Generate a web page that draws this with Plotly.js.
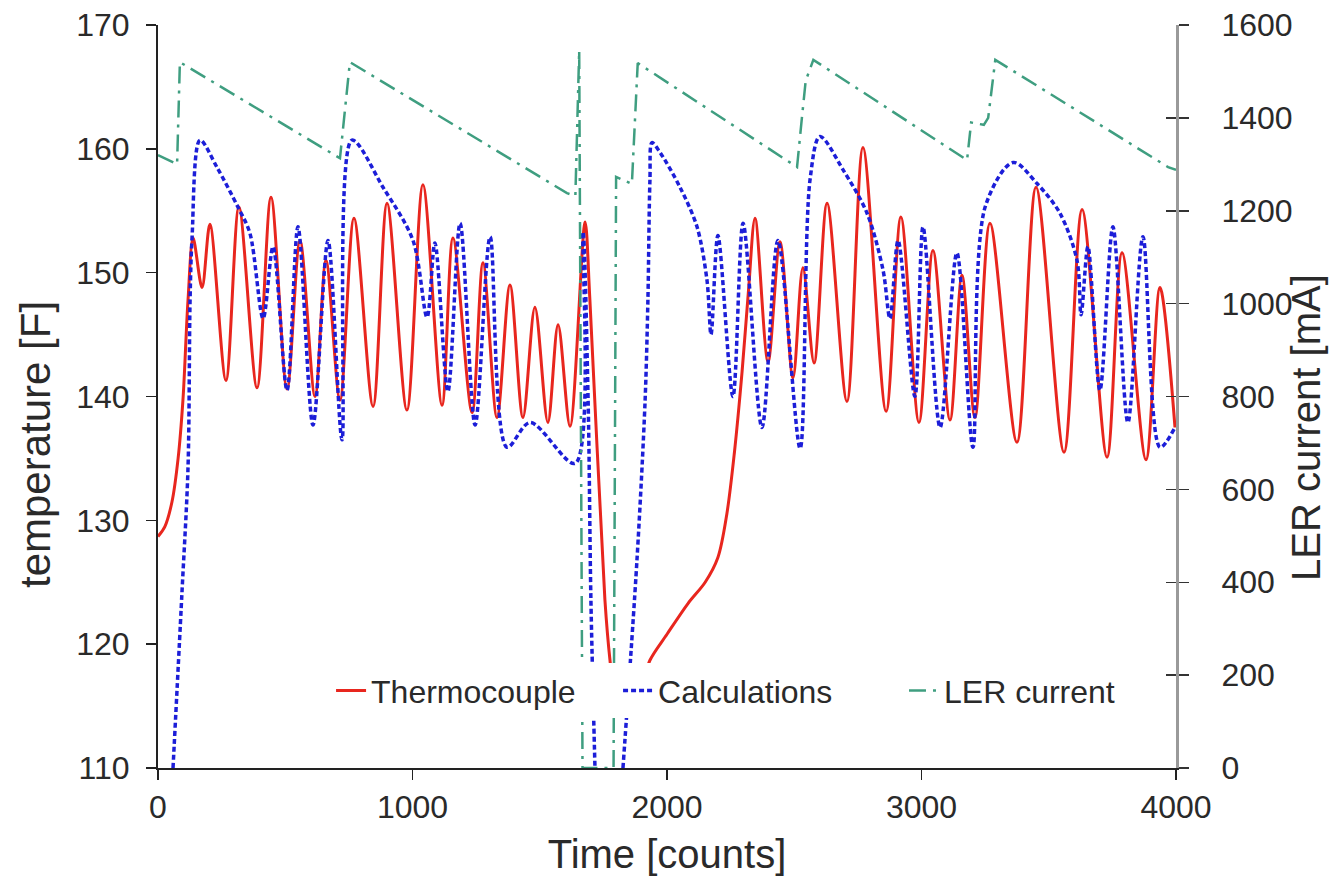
<!DOCTYPE html>
<html>
<head>
<meta charset="utf-8">
<script src="https://cdn.plot.ly/plotly-3.0.1.min.js"></script>
<style>html,body{margin:0;padding:0;background:#fff;}#chart{width:1330px;height:886px;}</style>
</head>
<body>
<div id="chart"></div>
<script>
// Thermocouple (red) - time [counts] vs temperature [F]
const thermoCounts = [0,27,55,79,98,118,138,173,204,267,318,389,444,507,558,617,660,715,770,845,900,978,1041,1116,1159,1234,1277,1332,1383,1434,1481,1532,1572,1619,1678,1697,1756,1776,1790,1820,1860,1900,1933,2000,2083,2150,2200,2235,2265,2295,2320,2346,2397,2444,2495,2534,2578,2629,2707,2770,2861,2919,2990,3045,3112,3159,3210,3269,3375,3450,3560,3631,3729,3788,3882,3937,3996];
const thermoTemp   = [128.7,129.5,131.5,135,139.7,147.8,152.8,148.8,153.9,141.3,155.3,140.7,156.1,140.6,152.6,140.0,151.0,139.7,154.4,139.2,155.6,138.9,157.1,139.3,152.8,138.7,150.8,138.3,149.0,138.3,147.2,137.9,145.8,137.6,154.1,147.8,123.6,118.7,116.5,115.5,115.6,116.6,118.7,120.8,123.3,125.0,127.0,130.5,135.5,142.0,148.5,154.4,142.8,152.5,141.5,150.4,142.7,155.6,139.6,160.1,138.8,154.5,137.9,151.8,138.1,149.8,138.3,154.0,136.3,156.9,135.5,155.1,135.1,151.6,134.9,148.8,137.5];

// Calculations (blue) - null marks where the curve is below the axis range
const calcCounts = [59,94,118,126,134,165,232,314,361,413,452,507,550,609,668,723,762,884,1002,1057,1088,1139,1187,1246,1305,1371,1462,1639,1670,1690,1701,1717,1770,1827,1882,1914,1925,1933,1941,1973,2051,2118,2157,2173,2200,2259,2299,2373,2436,2523,2562,2601,2692,2786,2849,2876,2908,2974,3006,3073,3139,3202,3250,3360,3454,3544,3611,3627,3654,3701,3752,3811,3870,3937,3996];
const calcTemp   = [110,124.1,134.3,147.8,152.9,160.7,158.5,155.3,153.2,146.3,152.1,140.5,153.7,137.7,152.6,136.5,160.7,156.9,152.6,146.4,152.4,140.4,154.0,137.7,152.9,135.9,137.9,134.6,153.3,139.7,123.6,110,null,110,126.8,139.7,147.8,157.5,160.5,159.7,156.9,153.7,149.4,145.0,153.0,140.0,154.0,137.5,152.6,135.8,157.5,161.0,158.3,154.8,150.2,146.3,152.6,140.0,153.7,137.5,151.6,135.9,155.3,158.9,157.2,154.8,151.0,146.6,152.1,140.5,153.7,137.9,152.9,135.9,137.5];

// LER current (green) - mA
const lerCounts  = [0,75,86,715,754,1607,1640,1655,1668,1790,1800,1862,1885,2511,2530,2545,2575,3179,3195,3245,3262,3290,3969,4000];
const lerCurrent = [1320,1300,1520,1313,1520,1238,1232,1545,0,0,1273,1258,1518,1294,1400,1480,1525,1309,1390,1385,1400,1525,1294,1288];

const seriesNames = ['Thermocouple','Calculations','LER current'];
const axisTitles = {x: 'Time [counts]', yLeft: 'temperature [F]', yRight: 'LER current [mA]'};

const FONT = 'Liberation Sans, Arial, sans-serif';
const TXT = '#2a2a2a';

const traces = [
  {x: thermoCounts, y: thermoTemp, name: seriesNames[0], mode: 'lines', yaxis: 'y', legend: 'legend',
   line: {color: '#e8261e', width: 3, shape: 'spline', smoothing: 0.9}},
  {x: calcCounts, y: calcTemp, name: seriesNames[1], mode: 'lines', yaxis: 'y', connectgaps: false, legend: 'legend',
   line: {color: '#1c1ed8', width: 3.5, dash: '5px,3px', shape: 'spline', smoothing: 0.9}},
  {x: lerCounts, y: lerCurrent, name: seriesNames[2], mode: 'lines', yaxis: 'y2', legend: 'legend2',
   line: {color: '#3f9e80', width: 2.5, dash: '17px,7px,3px,7px'}},
  {x: [0], y: [0], yaxis: 'y3', mode: 'markers', marker: {opacity: 0}, showlegend: false, hoverinfo: 'skip'}
];

const legendFont = {size: 32, family: FONT, color: TXT};

const layout = {
  width: 1330, height: 886,
  margin: {l: 158, r: 154, t: 25, b: 118},
  paper_bgcolor: '#fff', plot_bgcolor: '#fff',
  font: {family: FONT, color: TXT},
  showlegend: true,
  legend: {orientation: 'h', x: 0.170, xanchor: 'left', y: 0.104, yanchor: 'middle',
           entrywidth: 242, entrywidthmode: 'pixels',
           bgcolor: '#ffffff', borderwidth: 0, font: legendFont},
  legend2: {orientation: 'h', x: 0.7328, xanchor: 'left', y: 0.104, yanchor: 'middle',
            bgcolor: '#ffffff', borderwidth: 0, font: legendFont},
  xaxis: {range: [0, 4000], tick0: 0, dtick: 1000, showgrid: false, zeroline: false,
          showline: true, linecolor: '#222', linewidth: 2, ticks: 'outside', ticklen: 10, tickwidth: 1.5, tickcolor: '#222',
          tickfont: {size: 32, family: FONT, color: TXT}, ticklabelstandoff: 0,
          title: {text: axisTitles.x, font: {size: 40, family: FONT, color: TXT}, standoff: 16}},
  yaxis: {range: [110, 170], tick0: 110, dtick: 10, showgrid: false, zeroline: false,
          showline: true, linecolor: '#222', linewidth: 2, ticks: 'outside', ticklen: 10, tickwidth: 1.5, tickcolor: '#222',
          tickfont: {size: 32, family: FONT, color: TXT}, ticklabelstandoff: 10},
  yaxis2: {overlaying: 'y', side: 'right', range: [0, 1600], tick0: 0, dtick: 200, showgrid: false, zeroline: false,
           showline: true, linecolor: '#9a9a9a', linewidth: 3, ticks: 'outside', ticklen: 10, tickwidth: 1.5, tickcolor: '#333',
           tickfont: {size: 32, family: FONT, color: TXT}, ticklabelstandoff: 26},
  yaxis3: {overlaying: 'y', side: 'right', range: [0, 1600], tick0: 0, dtick: 200, showgrid: false, zeroline: false,
           showline: false, ticks: 'inside', ticklen: 10, tickwidth: 1.5, tickcolor: '#333', showticklabels: false},
  annotations: [
    {text: axisTitles.yLeft, xref: 'paper', yref: 'paper', x: 0, xshift: -123, y: 0.4347,
     xanchor: 'center', yanchor: 'middle', textangle: -90, showarrow: false,
     font: {size: 42, family: FONT, color: TXT}},
    {text: axisTitles.yRight, xref: 'paper', yref: 'paper', x: 1, xshift: 130, y: 0.4576,
     xanchor: 'center', yanchor: 'middle', textangle: -90, showarrow: false,
     font: {size: 40, family: FONT, color: TXT}}
  ]
};

Plotly.newPlot('chart', traces, layout, {displayModeBar: false, staticPlot: true});
</script>
</body>
</html>
